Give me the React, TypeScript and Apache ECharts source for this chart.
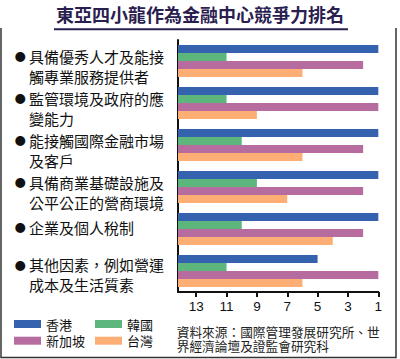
import React, { useEffect, useRef } from "react";
import * as echarts from "echarts";

const TITLE = "東亞四小龍作為金融中心競爭力排名";
const SOURCE = "資料來源：國際管理發展研究所、世\n界經濟論壇及證監會研究科";
const categories = [
  "具備優秀人才及能接\n觸專業服務提供者",
  "監管環境及政府的應\n變能力",
  "能接觸國際金融市場\n及客戶",
  "具備商業基礎設施及\n公平公正的營商環境",
  "企業及個人稅制",
  "其他因素，例如營運\n成本及生活質素",
];
const seriesNames = ["香港", "韓國", "新加坡", "台灣"];
const hongKong = [1, 1, 1, 1, 1, 5];
const korea = [11, 11, 10, 9, 10, 11];
const singapore = [2, 1, 2, 2, 2, 1];
const taiwan = [6, 9, 6, 7, 4, 6];
const rankValues = [hongKong, korea, singapore, taiwan];
const colors = ["#3462ae", "#5db67c", "#b76c9f", "#fdae74"];
const RANK_EDGE = 14.2; // rank at left edge of plot
const labelPads = [
  [10, 0, 0, 0],
  [10, 0, 0, 0],
  [10, 0, 0, 0],
  [10, 0, 0, 0],
  [0, 0, 4, 0],
  [7, 0, 0, 0],
];

const CJK = '"Noto Sans CJK TC", "Noto Sans CJK SC", sans-serif';

export default function App() {
  const ref = useRef<HTMLDivElement>(null);
  useEffect(() => {
    if (!ref.current) return;
    const chart = echarts.init(ref.current, null, { renderer: "svg" });
    const span = RANK_EDGE - 1;
    chart.setOption({
      animation: false,
      backgroundColor: "#ffffff",
      grid: {
        left: 178,
        right: 21.7,
        top: 40,
        bottom: 67,
        containLabel: false,
        outerBoundsMode: "none",
      },
      xAxis: [
        { type: "value", min: 0, max: span, show: false, position: "top" },
        {
          type: "value",
          inverse: true,
          min: 0,
          max: span,
          interval: 2,
          position: "bottom",
          splitLine: { show: false },
          axisLine: { show: true, lineStyle: { color: "#111", width: 2 } },
          axisTick: { show: true, length: 5, lineStyle: { color: "#111", width: 2 } },
          axisLabel: {
            margin: 7,
            fontSize: 13.5,
            color: "#111",
            fontFamily: '"Liberation Sans", Arial, sans-serif',
            showMaxLabel: false,
            formatter: (v: number) =>
              Math.abs(v - Math.round(v)) < 1e-6 && Math.round(v) % 2 === 0 ? String(Math.round(v) + 1) : "",
          },
        },
      ],
      yAxis: {
        type: "category",
        inverse: true,
        data: categories.map((c, i) => ({ value: c, textStyle: { padding: labelPads[i] } })),
        axisLine: { show: true, lineStyle: { color: "#111", width: 2 } },
        axisTick: { show: false },
        splitLine: { show: false },
        axisLabel: {
          margin: 12,
          interval: 0,
          fontSize: 15,
          lineHeight: 20,
          color: "#111",
          fontFamily: CJK,
          hideOverlap: false,
          formatter: (val: string) =>
            val
              .split("\n")
              .map((l, i) => (i === 0 ? "{b|●}" : "{b| }") + "{t|" + l + "}")
              .join("\n"),
          rich: {
            b: { width: 14.3, align: "left", fontSize: 11, lineHeight: 20, color: "#111", fontFamily: CJK },
            t: { width: 137, align: "left", fontSize: 15, lineHeight: 20, color: "#111", fontFamily: CJK },
          },
        },
      },
      legend: [
        {
          left: 14,
          top: 317,
          padding: 0,
          orient: "vertical",
          data: [seriesNames[0], seriesNames[2]],
          icon: "rect",
          itemWidth: 27,
          itemHeight: 8,
          itemGap: 2.7,
          selectedMode: false,
          textStyle: { fontSize: 13, lineHeight: 14, color: "#111", fontFamily: CJK },
        },
        {
          left: 95,
          top: 317,
          padding: 0,
          orient: "vertical",
          data: [seriesNames[1], seriesNames[3]],
          icon: "rect",
          itemWidth: 27,
          itemHeight: 8,
          itemGap: 2.7,
          selectedMode: false,
          textStyle: { fontSize: 13, lineHeight: 14, color: "#111", fontFamily: CJK },
        },
      ],
      series: seriesNames.map((name, si) => ({
        name,
        type: "bar",
        xAxisIndex: 0,
        barWidth: 8,
        barGap: "0%",
        itemStyle: { color: colors[si] },
        data: rankValues[si].map((r) => RANK_EDGE - r),
      })),
      graphic: [
        {
          type: "text",
          left: "center",
          top: 5,
          style: {
            text: TITLE,
            fontSize: 18,
            fontWeight: "bold",
            fill: "#2a2050",
            fontFamily: CJK,
          },
        },
        {
          type: "line",
          shape: { x1: 54, y1: 29.3, x2: 348, y2: 29.3 },
          style: { stroke: "#2a2050", lineWidth: 2 },
        },
        {
          type: "polyline",
          shape: { points: [[1, 28], [1, 357.5], [396, 357.5], [396, 28]] },
          style: { stroke: "#333", lineWidth: 1.5, fill: null },
        },
        {
          type: "text",
          x: 176.7,
          y: 324.5,
          style: {
            text: SOURCE,
            fontSize: 12.7,
            lineHeight: 14,
            fill: "#222",
            fontFamily: CJK,
          },
        },
      ],
    });
    return () => chart.dispose();
  }, []);
  return (
    <div
      ref={ref}
      style={{ position: "fixed", left: 0, top: 0, width: 400, height: 359 }}
    />
  );
}
